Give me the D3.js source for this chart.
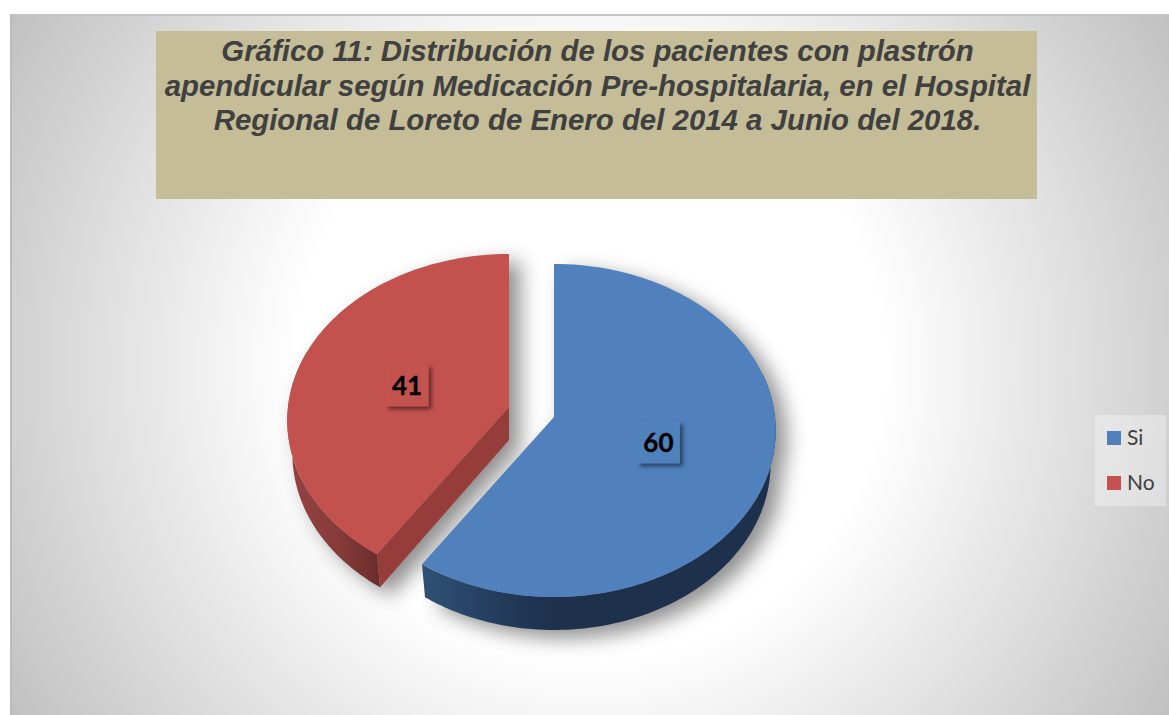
<!DOCTYPE html>
<html><head><meta charset="utf-8">
<script src="https://cdn.jsdelivr.net/npm/d3@7/dist/d3.min.js"></script>
<style>html,body{margin:0;padding:0;background:#fff;overflow:hidden}svg{display:block}</style>
</head><body><svg id="c" width="1169" height="715"></svg>
<script>
const categories = ["Si", "No"];
const values = [60, 41];
const topColors = ["#5081bd", "#c3524f"];
const titleLines = [
  "Gráfico 11: Distribución de los pacientes con plastrón",
  "apendicular según Medicación Pre-hospitalaria, en el Hospital",
  "Regional de Loreto de Enero del 2014 a Junio del 2018."
];
const origins = [[554, 417], [509, 407]];   // apex of each slice on the page
const scaleX = 221, scaleY = 165.4, persp = 0.081, depth = 33, lowShrink = 0.977;

const svg = d3.select("#c");
const defs = svg.append("defs");

const bg = defs.append("radialGradient").attr("id","bg").attr("gradientUnits","userSpaceOnUse")
  .attr("cx",590).attr("cy",365).attr("r",700);
[[0,"#ffffff"],[0.42,"#ffffff"],[1,"#bdbdbd"]]
  .forEach(s=>bg.append("stop").attr("offset",s[0]).attr("stop-color",s[1]));

const blur = defs.append("filter").attr("id","sh").attr("x","-20%").attr("y","-20%").attr("width","140%").attr("height","140%");
blur.append("feGaussianBlur").attr("stdDeviation",10);
defs.append("clipPath").attr("id","shClip").append("rect").attr("x",278).attr("y",200).attr("width",600).attr("height",500);
const lblSh = defs.append("filter").attr("id","lb").attr("x","-30%").attr("y","-30%").attr("width","170%").attr("height","170%");
lblSh.append("feDropShadow").attr("dx",3).attr("dy",3).attr("stdDeviation",2.2).attr("flood-color","#000").attr("flood-opacity",0.5);

function grad(id,x1,x2,stops){
  const g=defs.append("linearGradient").attr("id",id).attr("gradientUnits","userSpaceOnUse")
    .attr("x1",x1).attr("x2",x2).attr("y1",0).attr("y2",0);
  stops.forEach(s=>g.append("stop").attr("offset",s[0]).attr("stop-color",s[1]));
}
grad("blueWall",423,560,[[0,"#2f5075"],[0.8,"#1f3452"],[1,"#1d314c"]]);
grad("redWall",287,378,[[0,"#964342"],[0.6,"#843a39"],[1,"#6b2d2c"]]);

// page background
svg.append("rect").attr("x",10).attr("y",14).attr("width",1159).attr("height",701).attr("fill","url(#bg)");
svg.append("rect").attr("x",10).attr("y",14).attr("width",1159).attr("height",2).attr("fill","#c4c4c4");
svg.append("rect").attr("x",10).attr("y",14).attr("width",2).attr("height",701).attr("fill","#bcbcbc");

// title box
svg.append("rect").attr("x",156).attr("y",31).attr("width",881).attr("height",168).attr("fill","#c4bd97");
svg.append("g").selectAll("text").data(titleLines).join("text")
  .attr("x",597.5).attr("y",(d,i)=>61+i*34.5).attr("text-anchor","middle")
  .attr("font-family","'Liberation Sans',Arial,sans-serif").attr("font-weight","bold").attr("font-style","italic")
  .attr("font-size",29.4).attr("fill","#404040").text(d=>d);

// slices
const arcs = d3.pie().sort(null)(values);
function project(o, r, a){
  const u=r*Math.sin(a), v=r*Math.cos(a), w=1+persp*v;
  return [o[0]+scaleX*u/w, o[1]-scaleY*v/w];
}
function projectLow(o, r, a){
  const p=project(o,r,a);
  return [o[0]+(p[0]-o[0])*lowShrink, p[1]+depth];
}
const line = d3.line();
const samples=(a0,a1,n=120)=>d3.range(n+1).map(i=>a0+(a1-a0)*i/n);
const deg=d=>d*Math.PI/180;
const topPts=(arc,i)=>[origins[i],...samples(arc.startAngle,arc.endAngle).map(a=>project(origins[i],1,a))];

function wall(i,a0,a1){
  const o=origins[i], as=samples(a0,a1);
  return line([...as.map(a=>project(o,1,a)),...as.slice().reverse().map(a=>projectLow(o,1,a))]);
}
// soft shadow below the solid
const shadowClip = svg.append("g").attr("clip-path","url(#shClip)");
const shadow = shadowClip.append("g").attr("filter","url(#sh)").attr("opacity",0.6).attr("transform","translate(11,8)");
arcs.forEach((arc,i)=>{
  const o=origins[i];
  const low=samples(arc.startAngle,arc.endAngle).map(a=>projectLow(o,1,a));
  shadow.append("path").attr("d",line([[o[0],o[1]+depth],...low])+"Z").attr("fill","#444");
  shadow.append("path").attr("d",line(topPts(arc,i))+"Z").attr("fill","#444");
});

// red solid
const rTip=arcs[1].startAngle, rO=origins[1];
svg.append("path").attr("d",wall(1,rTip,deg(290))+"Z").attr("fill","url(#redWall)");
svg.append("path")
  .attr("d",line([rO,project(rO,1,rTip),projectLow(rO,1,rTip),[rO[0],rO[1]+depth]])+"Z")
  .attr("fill","#963c3a");
svg.append("path").attr("d",line(topPts(arcs[1],1))+"Z").attr("fill",topColors[1]);

// blue solid
svg.append("path").attr("d",wall(0,deg(75),arcs[0].endAngle)+"Z").attr("fill","url(#blueWall)");
svg.append("path").attr("d",line(topPts(arcs[0],0))+"Z").attr("fill",topColors[0]);

// data labels
arcs.forEach((arc,i)=>{
  const [x,y]=project(origins[i],0.488,(arc.startAngle+arc.endAngle)/2);
  const g=svg.append("g").attr("transform",`translate(${x},${y+1.5})`);
  g.append("rect").attr("x",-21.5).attr("y",-21).attr("width",43).attr("height",42)
    .attr("fill",topColors[i]).attr("filter","url(#lb)");
  g.append("text").attr("x",0).attr("y",10).attr("text-anchor","middle")
    .attr("font-family","Lato,'Open Sans',sans-serif").attr("font-weight","bold").attr("font-size",26)
    .attr("stroke","#000").attr("stroke-width",0.35)
    .attr("fill","#000").text(values[i]);
});

// legend
svg.append("rect").attr("x",1095).attr("y",415).attr("width",71).attr("height",91).attr("fill","#fff").attr("fill-opacity",0.32);
const lg=svg.append("g").selectAll("g").data(categories).join("g")
  .attr("transform",(d,i)=>`translate(1107,${431+i*45})`);
lg.append("rect").attr("width",14).attr("height",14).attr("fill",(d,i)=>topColors[i]);
lg.append("text").attr("x",20).attr("y",14).attr("font-family","Lato,'Open Sans',sans-serif")
  .attr("font-size",21).attr("fill","#404040").text(d=>d);
</script></body></html>
